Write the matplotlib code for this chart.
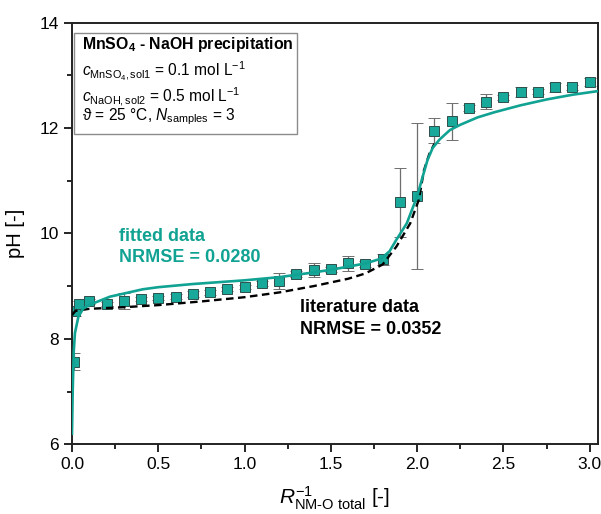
import matplotlib
matplotlib.use("Agg")
import matplotlib.pyplot as plt
from matplotlib.patches import Rectangle
from matplotlib.ticker import MultipleLocator, FormatStrFormatter

TEAL = "#19A99A"
TEAL_LINE = "#10A292"
ERR_COLOR = "#6E6E6E"

plt.rcParams["font.family"] = ["Liberation Sans", "DejaVu Sans"]
plt.rcParams["mathtext.fontset"] = "custom"
plt.rcParams["mathtext.rm"] = "Liberation Sans"
plt.rcParams["mathtext.it"] = "Liberation Sans:italic"
plt.rcParams["mathtext.bf"] = "Liberation Sans:bold"

# measured data (mean +- std of 3 samples)
x_meas = [0.01, 0.02, 0.04, 0.1, 0.2, 0.3, 0.4, 0.5, 0.6, 0.7, 0.8, 0.9, 1.0,
          1.1, 1.2, 1.3, 1.4, 1.5, 1.6, 1.7, 1.8, 1.9, 2.0, 2.1, 2.2, 2.3,
          2.4, 2.5, 2.6, 2.7, 2.8, 2.9, 3.0]
ph_meas = [7.57, 8.52, 8.66, 8.71, 8.66, 8.72, 8.76, 8.77, 8.80, 8.85, 8.88,
           8.95, 8.98, 9.05, 9.10, 9.23, 9.30, 9.32, 9.43, 9.42, 9.51, 10.59,
           10.71, 11.95, 12.13, 12.38, 12.50, 12.58, 12.68, 12.69, 12.77,
           12.77, 12.87]
ph_err = [0.17, 0.08, 0.05, 0.05, 0.04, 0.15, 0.04, 0.04, 0.05, 0.05, 0.05,
          0.04, 0.04, 0.05, 0.15, 0.05, 0.13, 0.05, 0.15, 0.05, 0.10, 0.65,
          1.38, 0.24, 0.35, 0.05, 0.14, 0.05, 0.10, 0.05, 0.09, 0.05, 0.08]

# fitted model curve
x_fit = [0.0, 0.004, 0.01, 0.017, 0.037, 0.066, 0.12, 0.22, 0.41, 0.5, 0.7,
         1.0, 1.2, 1.4, 1.5, 1.6, 1.7, 1.79, 1.84, 1.88, 1.94, 2.0, 2.03,
         2.06, 2.09, 2.13, 2.19, 2.25, 2.35, 2.45, 2.6, 2.75, 2.9, 3.05]
ph_fit = [6.2, 7.0, 7.75, 8.11, 8.42, 8.58, 8.67, 8.80, 8.94, 8.98, 9.04,
          9.11, 9.17, 9.26, 9.31, 9.37, 9.43, 9.52, 9.66, 9.88, 10.19, 10.70,
          11.05, 11.39, 11.62, 11.78, 11.96, 12.06, 12.20, 12.30, 12.43,
          12.54, 12.63, 12.70]

# literature curve
x_lit = [0.0, 0.02, 0.1, 0.3, 0.5, 0.75, 1.0, 1.2, 1.4, 1.5, 1.6, 1.7, 1.8,
         1.88, 1.96, 2.01, 2.04, 2.07, 2.1]
ph_lit = [8.45, 8.53, 8.57, 8.60, 8.64, 8.71, 8.79, 8.88, 9.00, 9.07, 9.14,
          9.24, 9.41, 9.75, 10.19, 10.64, 11.2, 11.5, 11.7]

fig = plt.figure(figsize=(6.01, 5.14), dpi=100)
ax = fig.add_axes([0.1198, 0.1356, 0.8757, 0.8206])

ax.errorbar(x_meas, ph_meas, yerr=ph_err, fmt="s", color=ERR_COLOR,
            ecolor=ERR_COLOR, elinewidth=0.9, capsize=4.2, capthick=0.9,
            markersize=6.5, markerfacecolor=TEAL, markeredgecolor="#2F4F4B",
            markeredgewidth=0.7, zorder=2)
ax.plot(x_lit, ph_lit, color="black", linestyle=(0, (3.2, 1.9)), linewidth=1.7,
        zorder=3)
ax.plot(x_fit, ph_fit, color=TEAL_LINE, linewidth=1.9, zorder=4)

ax.set_xlim(0, 3.05)
ax.set_ylim(6, 14)
ax.xaxis.set_major_locator(MultipleLocator(0.5))
ax.xaxis.set_minor_locator(MultipleLocator(0.25))
ax.xaxis.set_major_formatter(FormatStrFormatter("%.1f"))
ax.yaxis.set_major_locator(MultipleLocator(2))
ax.yaxis.set_minor_locator(MultipleLocator(1))
ax.tick_params(which="both", direction="out", top=False, right=False,
               width=1.2, labelsize=12.5, colors="black")
ax.tick_params(which="major", length=6)
ax.tick_params(which="minor", length=3.5)
for spine in ax.spines.values():
    spine.set_linewidth(1.4)
    spine.set_edgecolor("#222222")

ax.set_ylabel("pH [-]", fontsize=14.5)
ax.yaxis.set_label_coords(-0.089, 0.5)
fig.text(0.557, 0.018, "$R_{\\mathrm{NM\u2010O\\ total}}^{-1}$ [-]", fontsize=15,
         ha="center", va="baseline")

# info box
ax.add_patch(Rectangle((0.0038, 0.736), 0.424, 0.240, transform=ax.transAxes,
                       facecolor="white", edgecolor="#8C8C8C", linewidth=1.0,
                       zorder=5))
box_x = 0.0184
ax.text(box_x, 0.9369, r"MnSO$_\mathbf{4}$ - NaOH precipitation", fontsize=11.4,
        fontweight="bold", transform=ax.transAxes, va="baseline", zorder=6)
ax.text(box_x, 0.8719, r"$c_{\mathrm{MnSO_4,sol1}}$ = 0.1 mol L$^{-1}$",
        fontsize=11.2, transform=ax.transAxes, va="baseline", zorder=6)
ax.text(box_x, 0.8126, r"$c_{\mathrm{NaOH,sol2}}$ = 0.5 mol L$^{-1}$",
        fontsize=11.2, transform=ax.transAxes, va="baseline", zorder=6)
ax.text(box_x, 0.7676, "\u03d1 = 25 \u00b0C, $N_{\\mathrm{samples}}$ = 3",
        fontsize=11.2, transform=ax.transAxes, va="baseline", zorder=6)

# curve annotations
ax.text(0.27, 9.94, "fitted data", color=TEAL_LINE, fontsize=13,
        fontweight="bold", va="center")
ax.text(0.27, 9.55, "NRMSE = 0.0280", color=TEAL_LINE, fontsize=13,
        fontweight="bold", va="center")
ax.text(1.32, 8.60, "literature data", color="black", fontsize=13,
        fontweight="bold", va="center")
ax.text(1.32, 8.17, "NRMSE = 0.0352", color="black", fontsize=13,
        fontweight="bold", va="center")

fig.savefig("out.png", dpi=100)
